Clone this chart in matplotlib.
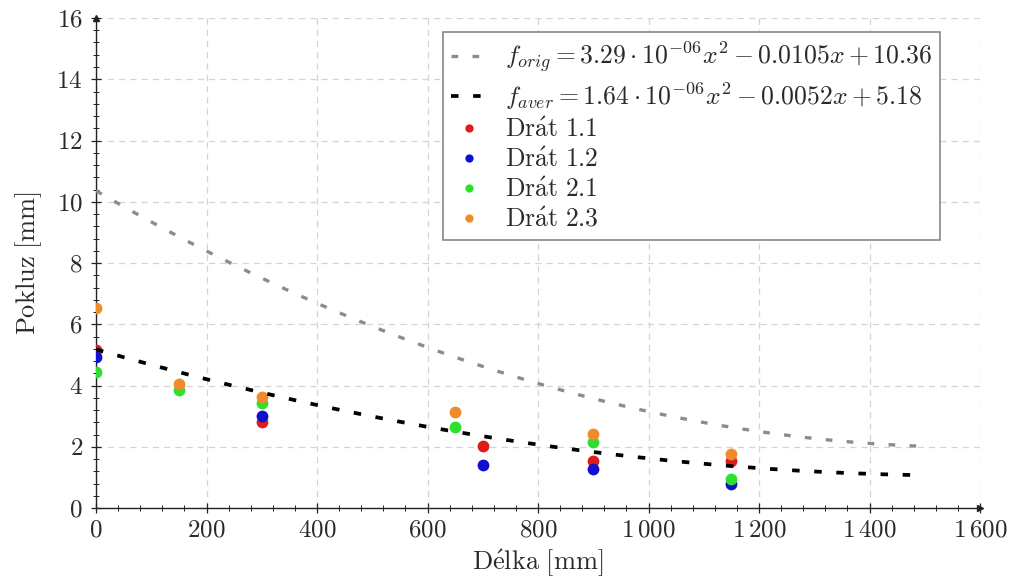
import numpy as np
import matplotlib
matplotlib.use("Agg")
import matplotlib.pyplot as plt
from matplotlib.ticker import MultipleLocator, FuncFormatter

plt.rcParams["mathtext.fontset"] = "cm"
plt.rcParams["font.family"] = ["cmr10", "DejaVu Serif"]
plt.rcParams["axes.formatter.use_mathtext"] = True

# Measured clearance (Pokluz) against wire length (Délka)
x_wire1 = [0, 300, 700, 900, 1150]
x_wire2 = [0, 150, 300, 650, 900, 1150]
drat_11 = [5.15, 2.82, 2.02, 1.55, 1.52]
drat_12 = [4.92, 3.02, 1.42, 1.26, 0.78]
drat_21 = [4.45, 3.84, 3.42, 2.66, 2.14, 0.96]
drat_23 = [6.53, 4.06, 3.63, 3.14, 2.41, 1.76]

# Fitted quadratic models (coefficients c2, c1, c0)
coef_orig = [3.29e-06, -0.0105, 10.36]
coef_aver = [1.64e-06, -0.0052, 5.18]
fit_range = [0, 1500]

label_orig = r"$f_{orig} = 3.29 \cdot 10^{-06}x^2 - 0.0105x + 10.36$"
label_aver = r"$f_{aver} = 1.64 \cdot 10^{-06}x^2 - 0.0052x + 5.18$"

text_color = "#2a2a2a"

fig = plt.figure(figsize=(10.14, 5.81), dpi=100)
ax = fig.add_axes([96 / 1014, 1 - 508 / 581, (980 - 96) / 1014, (508 - 18) / 581])

xs = np.linspace(fit_range[0], fit_range[1], 400)
ax.plot(xs, np.polyval(coef_orig, xs), color="#8c8c8c", lw=2.4,
        dashes=(2.0, 4.3), label=label_orig, zorder=4)
ax.plot(xs, np.polyval(coef_aver, xs), color="black", lw=2.7,
        dashes=(2.0, 3.9), label=label_aver, zorder=4)

ms = 8.5
ax.plot(x_wire1, drat_11, "o", color="#dd1c1c", ms=ms, mec="none", label=r"$\mathrm{Dr\acute{a}t\ 1.1}$", zorder=3)
ax.plot(x_wire1, drat_12, "o", color="#1010d0", ms=ms, mec="none", label=r"$\mathrm{Dr\acute{a}t\ 1.2}$", zorder=3)
ax.plot(x_wire2, drat_21, "o", color="#2ee02e", ms=ms, mec="none", label=r"$\mathrm{Dr\acute{a}t\ 2.1}$", zorder=3)
ax.plot(x_wire2, drat_23, "o", color="#f08a2a", ms=ms, mec="none", label=r"$\mathrm{Dr\acute{a}t\ 2.3}$", zorder=3)

ax.set_xlim(0, 1600)
ax.set_ylim(0, 16)
ax.xaxis.set_major_locator(MultipleLocator(200))
ax.xaxis.set_minor_locator(MultipleLocator(40))
ax.yaxis.set_major_locator(MultipleLocator(2))
ax.yaxis.set_minor_locator(MultipleLocator(0.4))


def thousands(v, pos):
    n = int(round(v))
    if n >= 1000:
        return r"$%d\,%03d$" % (n // 1000, n % 1000)
    return r"$%d$" % n


ax.xaxis.set_major_formatter(FuncFormatter(thousands))
ax.yaxis.set_major_formatter(FuncFormatter(thousands))

ax.tick_params(which="major", direction="inout", length=7, width=0.9, labelsize=18,
               color="#222222", labelcolor=text_color)
ax.tick_params(which="minor", direction="inout", length=4.5, width=0.7, color="#222222")
ax.tick_params(axis="x", pad=5)
ax.tick_params(axis="y", pad=6)

ax.grid(which="major", color="#d4d4d4", linestyle=(0, (5, 4)), linewidth=0.9)
ax.set_axisbelow(True)

for side in ("top", "right"):
    ax.spines[side].set_visible(False)
for side in ("left", "bottom"):
    ax.spines[side].set_linewidth(1.0)
    ax.spines[side].set_color("#222222")

# arrow heads at the ends of the axis lines
ax.plot(1, 0, ">", color="#222222", ms=5, transform=ax.transAxes, clip_on=False, zorder=6)
ax.plot(0, 1, "^", color="#222222", ms=5, transform=ax.transAxes, clip_on=False, zorder=6)

ax.set_xlabel(r"$\mathrm{D\acute{e}lka\ [mm]}$", fontsize=19, labelpad=4, color=text_color)
ax.set_ylabel(r"$\mathrm{Pokluz\ [mm]}$", fontsize=19, labelpad=9, color=text_color)

leg = ax.legend(loc="upper right", bbox_to_anchor=(940 / 1014, 1 - 32 / 581),
                bbox_transform=fig.transFigure, fontsize=18.5, frameon=True,
                fancybox=False, edgecolor="#888888", framealpha=1,
                handlelength=1.4, handletextpad=0.7, labelspacing=0.22,
                borderpad=0.3, markerscale=0.7, borderaxespad=0)
leg.get_frame().set_linewidth(1.2)
for t in leg.get_texts():
    t.set_color(text_color)

fig.savefig("out.png", dpi=100)
